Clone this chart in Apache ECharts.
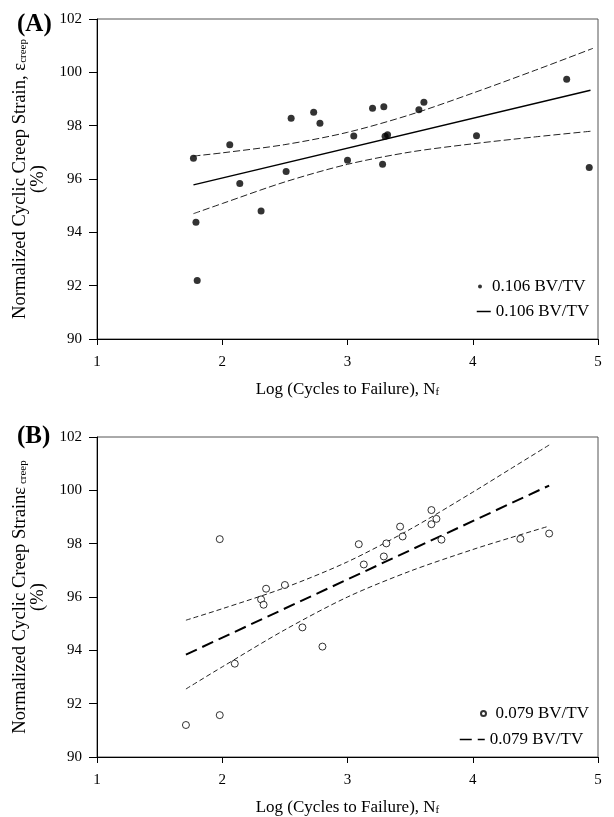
<!DOCTYPE html>
<html>
<head>
<meta charset="utf-8">
<script src="https://cdn.jsdelivr.net/npm/echarts@6/dist/echarts.min.js"></script>
<style>
html,body{margin:0;padding:0;background:#fff;}
#chart{width:614px;height:817px;}
</style>
</head>
<body>
<div id="chart"></div>
<script>
// ---------- Data ----------
// Panel A : 0.106 BV/TV (filled dots)
const xA = [1.77,1.79,1.80,2.06,2.14,2.31,2.51,2.55,2.73,2.78,3.00,3.05,3.20,3.29,3.28,3.30,3.32,3.57,3.61,4.03,4.75,4.93];
const yA = [96.78,94.38,92.19,97.28,95.83,94.80,96.28,98.28,98.50,98.09,96.70,97.61,98.65,98.71,96.55,97.60,97.66,98.60,98.88,97.62,99.74,96.43];
const fitAX = [1.77, 4.94];
const fitAY = [95.78, 99.33];
const bandAX = [1.77,2.0,2.5,3.0,3.5,4.0,4.5,4.96];
const bandAUp = [96.86,96.98,97.29,97.75,98.41,99.22,100.08,100.90];
const bandALo = [94.70,95.08,95.89,96.55,97.01,97.32,97.58,97.80];

// Panel B : 0.079 BV/TV (open circles)
const xB = [1.71,1.98,1.98,2.10,2.31,2.33,2.35,2.50,2.64,2.80,3.09,3.13,3.29,3.31,3.42,3.44,3.67,3.67,3.71,3.75,4.38,4.61];
const yB = [91.20,91.57,98.17,93.50,95.91,95.71,96.31,96.45,94.86,94.14,97.98,97.22,97.52,98.01,98.64,98.27,99.26,98.73,98.93,98.15,98.18,98.38];
const fitBX = [1.71, 4.61];
const fitBY = [93.84, 100.18];
const bandBX = [1.71,2.0,2.5,3.0,3.5,4.0,4.3,4.61];
const bandBUp = [95.13,95.56,96.35,97.32,98.54,99.93,100.80,101.70];
const bandBLo = [92.55,93.38,94.77,96.00,96.97,97.78,98.22,98.66];

const xTicks = [1,2,3,4,5];
const yTicks = [90,92,94,96,98,100,102];
const labelA = '0.106 BV/TV';
const labelB = '0.079 BV/TV';

// ---------- Helpers ----------
const zip = (xs, ys) => xs.map((x, i) => [x, ys[i]]);
const FONT = '"Liberation Serif", "Times New Roman", serif';
const legendNames = {A_pts: labelA, A_fit: labelA, B_pts: labelB, B_fit: labelB};
const HIDDEN = 'rgba(0,0,0,0)';

function xAxisDef(gridIndex) {
  return {
    type: 'value', gridIndex, min: xTicks[0], max: xTicks[xTicks.length-1], interval: 1,
    name: 'Log (Cycles to Failure), N{sub|f}',
    nameLocation: 'middle', nameGap: 42,
    nameTextStyle: {fontFamily: FONT, fontSize: 17, color: '#000',
      rich: {sub: {fontFamily: FONT, fontSize: 11, color: '#000', verticalAlign: 'bottom', lineHeight: 11}}},
    axisLine: {show: true, lineStyle: {color: '#000', width: 1}},
    axisTick: {show: true, inside: false, length: 6, lineStyle: {color: '#000'}},
    axisLabel: {fontFamily: FONT, fontSize: 15, color: '#000', margin: 16},
    splitLine: {show: false}
  };
}
function yAxisDef(gridIndex, name) {
  return {
    type: 'value', gridIndex, min: yTicks[0], max: yTicks[yTicks.length-1], interval: 2,
    name: name,
    nameLocation: 'middle', nameGap: 50, nameRotate: 90,
    nameTextStyle: {fontFamily: FONT, fontSize: 18.6, color: '#000', lineHeight: 18, align: 'center',
      rich: {
        sub: {fontFamily: FONT, fontSize: 11, color: '#000', verticalAlign: 'bottom', lineHeight: 11}
      }},
    axisLine: {show: true, lineStyle: {color: '#000', width: 1}},
    axisTick: {show: true, inside: false, length: 8, lineStyle: {color: '#000'}},
    axisLabel: {fontFamily: FONT, fontSize: 15, color: '#000', margin: 15},
    splitLine: {show: false}
  };
}
function legendDef(name, left, top, w, h, extra) {
  return Object.assign({
    data: [name], orient: 'vertical', left, top, padding: 0,
    itemWidth: w, itemHeight: h, itemGap: 0,
    formatter: n => legendNames[n],
    textStyle: {fontFamily: FONT, fontSize: 17, color: '#000'},
    selectedMode: false
  }, extra || {});
}

const chart = echarts.init(document.getElementById('chart'), null, {renderer: 'canvas'});
chart.setOption({
  animation: false,
  backgroundColor: '#fff',
  title: [
    {text: '(A)', left: 12, top: 7, textStyle: {fontFamily: FONT, fontSize: 25, fontWeight: 'bold', color: '#000'}},
    {text: '(B)', left: 12, top: 419, textStyle: {fontFamily: FONT, fontSize: 25, fontWeight: 'bold', color: '#000'}}
  ],
  grid: [
    {left: 97, top: 19, width: 501, height: 320, show: true, borderColor: '#555', borderWidth: 1, backgroundColor: 'transparent'},
    {left: 97, top: 437, width: 501, height: 320, show: true, borderColor: '#555', borderWidth: 1, backgroundColor: 'transparent'}
  ],
  xAxis: [xAxisDef(0), xAxisDef(1)],
  yAxis: [
    yAxisDef(0, 'Normalized Cyclic Creep Strain, ε{sub|creep}\n(%)'),
    yAxisDef(1, 'Normalized Cyclic Creep Strainε{sub| creep}\n(%)')
  ],
  legend: [
    legendDef('A_pts', 478, 278, 14, 4),
    legendDef('A_fit', 476, 303, 14, 14, {
      itemStyle: {color: HIDDEN, borderColor: HIDDEN, borderWidth: 0},
      lineStyle: {color: '#000', width: 1.5, type: 'solid'}
    }),
    legendDef('B_pts', 480, 705, 14, 5),
    legendDef('B_fit', 459, 731, 25, 14, {
      itemStyle: {color: HIDDEN, borderColor: HIDDEN, borderWidth: 0},
      lineStyle: {color: '#000', width: 1.5, type: [12, 6]}
    })
  ],
  series: [
    // Panel A
    {name: 'A_pts', type: 'scatter', xAxisIndex: 0, yAxisIndex: 0, data: zip(xA, yA),
      symbol: 'circle', symbolSize: 7, itemStyle: {color: '#000'}, z: 5},
    {name: 'A_fit', type: 'line', xAxisIndex: 0, yAxisIndex: 0, data: zip(fitAX, fitAY),
      symbol: 'none', lineStyle: {color: '#000', width: 1.5, type: 'solid'}, itemStyle: {color: '#000'}},
    {name: 'A_up', type: 'line', xAxisIndex: 0, yAxisIndex: 0, data: zip(bandAX, bandAUp),
      symbol: 'none', smooth: 0.3, lineStyle: {color: '#222', width: 1, type: [7, 3]}},
    {name: 'A_lo', type: 'line', xAxisIndex: 0, yAxisIndex: 0, data: zip(bandAX, bandALo),
      symbol: 'none', smooth: 0.3, lineStyle: {color: '#222', width: 1, type: [7, 3]}},
    // Panel B
    {name: 'B_pts', type: 'scatter', xAxisIndex: 1, yAxisIndex: 1, data: zip(xB, yB),
      symbol: 'circle', symbolSize: 7, itemStyle: {color: '#fff', borderColor: '#000', borderWidth: 1}, z: 5},
    {name: 'B_fit', type: 'line', xAxisIndex: 1, yAxisIndex: 1, data: zip(fitBX, fitBY),
      symbol: 'none', lineStyle: {color: '#000', width: 2, type: [12, 6]}, itemStyle: {color: '#000'}},
    {name: 'B_up', type: 'line', xAxisIndex: 1, yAxisIndex: 1, data: zip(bandBX, bandBUp),
      symbol: 'none', smooth: 0.3, lineStyle: {color: '#222', width: 1, type: [5, 3]}},
    {name: 'B_lo', type: 'line', xAxisIndex: 1, yAxisIndex: 1, data: zip(bandBX, bandBLo),
      symbol: 'none', smooth: 0.3, lineStyle: {color: '#222', width: 1, type: [5, 3]}}
  ]
});
</script>
</body>
</html>
